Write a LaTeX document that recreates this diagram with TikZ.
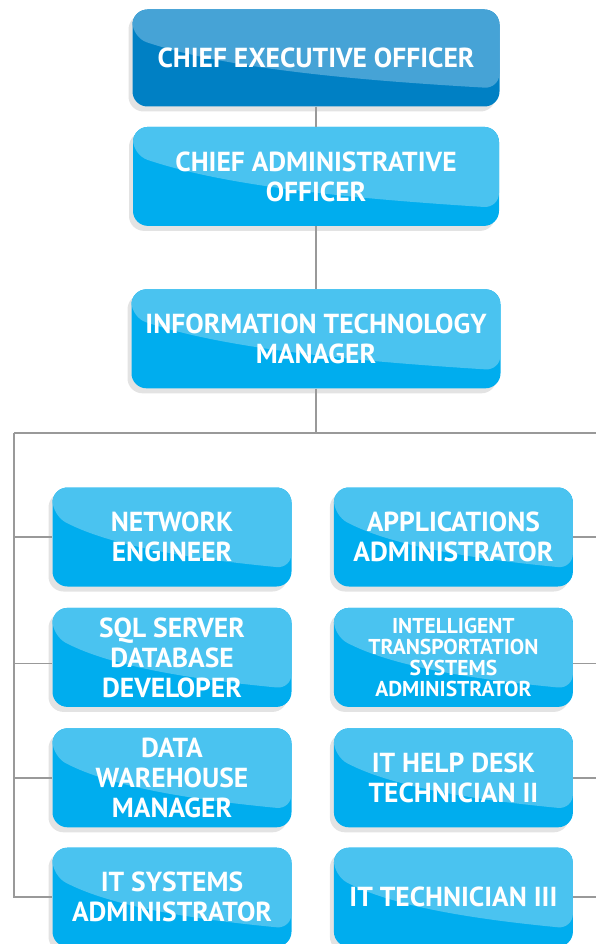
\documentclass[tikz,border=0pt]{standalone}
\usepackage{fontspec}
\setmainfont{PT Sans}
\usetikzlibrary{positioning, shadows, calc}

\definecolor{bluewave}{HTML}{4AC3F0}
\definecolor{bluebase}{HTML}{00ADEE}
\definecolor{headwave}{HTML}{46A3D6}
\definecolor{headbase}{HTML}{0080C4}
\definecolor{wire}{HTML}{999999}

\begin{document}
\begin{tikzpicture}[x=1pt, y=-1pt,
                    post/.style={rectangle, rounded corners=15pt, minimum width=239pt,
                      minimum height=99pt, align=center, text=white,
                      font=\bfseries\fontsize{27.5}{30}\selectfont,
                      fill=#1base, drop shadow={shadow xshift=-4pt, shadow yshift=-5pt, opacity=0.22},
                      path picture={
                        \path (path picture bounding box.north west) coordinate (nw)
                              (path picture bounding box.south east) coordinate (se);
                        \fill[#1wave] (nw) -| ([yshift=18pt]se)
                          .. controls ($([yshift=-28pt]nw)!0.6!([yshift=18pt]se)+(0,-12pt)$)
                          and ($([yshift=-28pt]nw)!0.25!([yshift=18pt]se)+(0,-18pt)$)
                          .. ([yshift=-28pt]nw) -- cycle;}},
                    post/.default=blue,
                    link/.style={draw=wire, line width=1.6pt}]

\useasboundingbox (0,0) rectangle (596,944);

% Nodes
\node (ceo) [post=head, minimum width=367pt, minimum height=97pt] at (316,58) {CHIEF EXECUTIVE OFFICER};
\node (cao) [post, minimum width=366pt, below=20pt of ceo] {CHIEF ADMINISTRATIVE\\OFFICER};
\node (itm) [post, minimum width=369pt, below=63pt of cao] {INFORMATION TECHNOLOGY\\MANAGER};

\node (net) [post] at (172,537) {NETWORK\\ENGINEER};
\node (sql) [post, below=21pt of net] {SQL SERVER\\DATABASE\\DEVELOPER};
\node (dwh) [post, below=21pt of sql] {DATA\\WAREHOUSE\\MANAGER};
\node (sys) [post, below=20pt of dwh] {IT SYSTEMS\\ADMINISTRATOR};

\node (app) [post, right=42pt of net] {APPLICATIONS\\ADMINISTRATOR};
\node (its) [post, below=21pt of app, font=\bfseries\fontsize{21.5}{21}\selectfont] {INTELLIGENT\\TRANSPORTATION\\SYSTEMS\\ADMINISTRATOR};
\node (help) [post, below=21pt of its] {IT HELP DESK\\TECHNICIAN II};
\node (tech) [post, below=20pt of help] {IT TECHNICIAN III};

\coordinate (busL) at (14,433);
\coordinate (busR) at (596,433);

% Edges
\draw[link] (ceo.south) -- (cao.north);
\draw[link] (cao.south) -- (itm.north);
\draw[link] (itm.south) -- (itm.south |- busL);
\draw[link] (busL) -- (busR);
\draw[link] (busL) |- (sys.west);
\draw[link] (net.west -| busL) -- (net.west);
\draw[link] ([yshift=-6pt]sql.west -| busL) -- ([yshift=-6pt]sql.west);
\draw[link] (dwh.west -| busL) -- (dwh.west);
\draw[link] (app.east) -- (app.east -| busR);
\draw[link] ([yshift=-6pt]its.east) -- ([yshift=-6pt]its.east -| busR);
\draw[link] (help.east) -- (help.east -| busR);
\draw[link] (tech.east) -- (tech.east -| busR);

\end{tikzpicture}
\end{document}
